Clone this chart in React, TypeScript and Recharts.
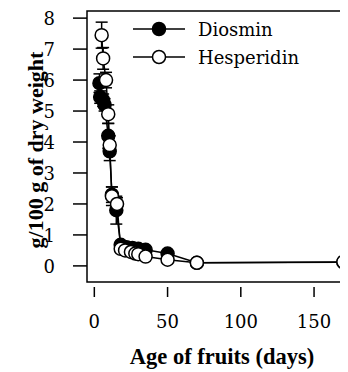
import React from 'react';
import { ComposedChart, Scatter, XAxis, YAxis, ErrorBar, ReferenceArea, Label } from 'recharts';

// Flavonoid content vs fruit age
const diosminAge = [3.5, 4, 6, 7, 9.5, 10.5, 12, 15, 18, 22, 26, 30, 35, 50, 70, 170];
const diosminValue = [5.9, 5.45, 5.35, 5.2, 4.2, 3.7, 2.3, 1.8, 0.68, 0.6, 0.58, 0.55, 0.52, 0.4, 0.1, 0.12];
const diosminErr = [0.3, 0.2, 0.2, 0.2, 0.4, 0.3, 0.25, 0.45, 0, 0, 0, 0, 0, 0, 0, 0];

const hesperidinAge = [5, 6, 8, 9.5, 10.5, 12, 15.5, 18, 21, 25, 28, 30, 35, 50, 70, 170];
const hesperidinValue = [7.45, 6.7, 6.0, 4.9, 3.9, 2.25, 2.0, 0.55, 0.5, 0.45, 0.4, 0.38, 0.3, 0.2, 0.1, 0.13];
const hesperidinErr = [0.42, 0.35, 0.25, 0.3, 0.3, 0.3, 0.2, 0, 0, 0, 0, 0, 0, 0, 0, 0];

const seriesNames = ['Diosmin', 'Hesperidin'];
const xTicks = [0, 50, 100, 150];
const yTicks = [0, 1, 2, 3, 4, 5, 6, 7, 8];

const X_DOMAIN: [number, number] = [-5, 180];
const Y_DOMAIN: [number, number] = [-0.52, 8.23];

// regular Liberation Serif is not there, only bold; DejaVu Serif for normal text
const REG = { fontFamily: "'DejaVu Serif', serif" };
const BOLD = { fontFamily: "'Liberation Serif', 'Times New Roman', serif" };

const diosminData = diosminAge.map((x, i) => ({ x, y: diosminValue[i], err: diosminErr[i] }));
const hesperidinData = hesperidinAge.map((x, i) => ({ x, y: hesperidinValue[i], err: hesperidinErr[i] }));

const XTick = (props: any) => {
  const { x, y, payload } = props;
  return (
    <g>
      <line x1={x} x2={x} y1={y + 5} y2={y + 15} stroke="#000" strokeWidth={1.5} />
      <text x={x} y={y + 46} textAnchor="middle" style={REG} fontSize={18} fill="#000">
        {payload.value}
      </text>
    </g>
  );
};

const YTick = (props: any) => {
  const { x, y, payload } = props;
  return (
    <g>
      <line x1={x - 14} x2={x} y1={y} y2={y} stroke="#000" strokeWidth={1.5} />
      <text x={x - 32} y={y + 7} textAnchor="end" style={REG} fontSize={18} fill="#000">
        {payload.value}
      </text>
    </g>
  );
};

const Dot = ({ cx, cy, filled }: any) => (
  <circle cx={cx} cy={cy} r={6.5} fill={filled ? '#000' : '#fff'} stroke="#000" strokeWidth={1.5} />
);

// legend in page coordinates, top right inside the plot box
const LegendBox = () => (
  <g>
    {seriesNames.map((name, i) => {
      const cy = 29 + i * 28;
      const filled = i === 0;
      return (
        <g key={name}>
          <line x1={133} x2={185} y1={cy} y2={cy} stroke="#000" strokeWidth={1.5} />
          <circle cx={159} cy={cy} r={6.5} fill={filled ? '#000' : '#fff'} stroke="#000" strokeWidth={1.5} />
          <text x={198} y={cy + 7} style={REG} fontSize={18} fill="#000">
            {name}
          </text>
        </g>
      );
    })}
  </g>
);

export default function App() {
  return (
    <div style={{ margin: '-8px 0 0 -8px', width: 348, height: 372, overflow: 'hidden', background: '#fff' }}>
      <ComposedChart width={368} height={372} margin={{ top: 11, right: 10, bottom: 0, left: 0 }}>
        <ReferenceArea
          x1={X_DOMAIN[0]}
          x2={X_DOMAIN[1]}
          y1={Y_DOMAIN[0]}
          y2={Y_DOMAIN[1]}
          fill="none"
          stroke="#000"
          strokeWidth={1.5}
          ifOverflow="visible"
        />
        <XAxis
          type="number"
          dataKey="x"
          domain={X_DOMAIN}
          ticks={xTicks}
          allowDataOverflow
          axisLine={false}
          tickLine={false}
          tickSize={0}
          tickMargin={0}
          tick={<XTick />}
          height={90}
        >
          <Label
            content={() => (
              <text x={222} y={364} textAnchor="middle" style={BOLD} fontSize={22.5} fontWeight="bold" fill="#000">
                Age of fruits (days)
              </text>
            )}
          />
        </XAxis>
        <YAxis
          type="number"
          dataKey="y"
          domain={Y_DOMAIN}
          ticks={yTicks}
          allowDataOverflow
          axisLine={false}
          tickLine={false}
          tickSize={0}
          tickMargin={0}
          tick={<YTick />}
          width={87}
        >
          <Label
            content={() => (
              <text
                x={35}
                y={150}
                textAnchor="middle"
                style={BOLD}
                fontSize={22}
                fontWeight="bold"
                fill="#000"
                transform="rotate(-90 35 150)"
                dominantBaseline="central"
              >
                g/100 g of dry weight
              </text>
            )}
          />
        </YAxis>
        <Scatter
          name="Diosmin"
          data={diosminData}
          line={{ stroke: '#000', strokeWidth: 1.5 }}
          lineType="joint"
          shape={(p: any) => <Dot {...p} filled />}
          isAnimationActive={false}
        >
          <ErrorBar dataKey="err" direction="y" width={6} stroke="#000" strokeWidth={1.5} />
        </Scatter>
        <Scatter
          name="Hesperidin"
          data={hesperidinData}
          line={{ stroke: '#000', strokeWidth: 1.5 }}
          lineType="joint"
          shape={(p: any) => <Dot {...p} filled={false} />}
          isAnimationActive={false}
        >
          <ErrorBar dataKey="err" direction="y" width={6} stroke="#000" strokeWidth={1.5} />
        </Scatter>
        <ReferenceArea
          x1={X_DOMAIN[0]}
          x2={X_DOMAIN[1]}
          y1={Y_DOMAIN[0]}
          y2={Y_DOMAIN[1]}
          fill="none"
          stroke="none"
          ifOverflow="visible"
          label={<LegendBox />}
        />
      </ComposedChart>
    </div>
  );
}
